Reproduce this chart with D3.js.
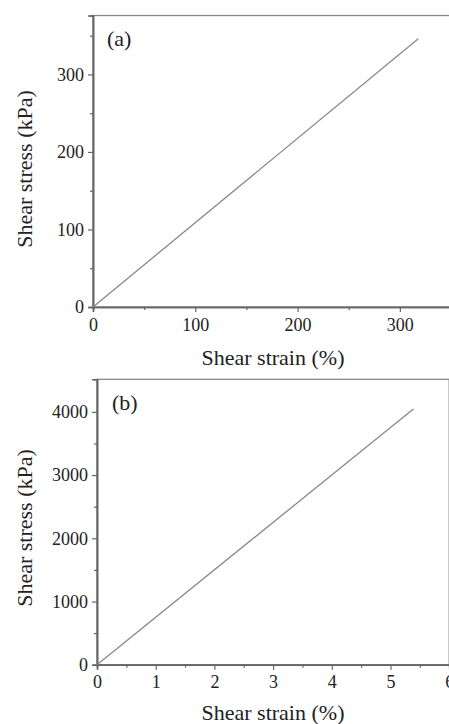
<!DOCTYPE html>
<html>
<head>
<meta charset="utf-8">
<script src="https://cdn.jsdelivr.net/npm/d3@7"></script>
<style>
  body { margin: 0; background: #fff; }
  svg { display: block; }
</style>
</head>
<body>
<div id="chart"></div>
<script>
// panel (a)
const strainA = [0, 318];
const stressA = [0, 346];
const xTicksA = [0, 100, 200, 300];
const yTicksA = [0, 100, 200, 300];

// panel (b)
const strainB = [0, 5.39];
const stressB = [0, 4045];
const xTicksB = [0, 1, 2, 3, 4, 5, 6];
const yTicksB = [0, 1000, 2000, 3000, 4000];

let width = 449,
    height = 724;

const svg = d3.select('#chart')
    .append('svg')
        .attr('width', width)
        .attr('height', height);

const font = "'Liberation Serif', 'Times New Roman', serif";

function panel(opts) {
    const g = svg.append('g');
    const x = d3.scaleLinear().domain(opts.xDomain).range([opts.left, opts.right]);
    const y = d3.scaleLinear().domain(opts.yDomain).range([opts.bottom, opts.top]);

    // frame
    g.append('rect')
        .attr('x', opts.left)
        .attr('y', opts.top)
        .attr('width', opts.right - opts.left)
        .attr('height', opts.bottom - opts.top)
        .style('fill', 'none')
        .style('stroke', '#888')
        .style('stroke-width', 1.3);

    // minor ticks
    const xMinor = g.append('g')
        .attr('transform', 'translate(0,' + opts.bottom + ')')
        .call(d3.axisBottom(x).tickValues(opts.xMinor).tickSize(3).tickFormat(''));
    const yMinor = g.append('g')
        .attr('transform', 'translate(' + opts.left + ',0)')
        .call(d3.axisLeft(y).tickValues(opts.yMinor).tickSize(3).tickFormat(''));

    const xAxis = g.append('g')
        .attr('transform', 'translate(0,' + opts.bottom + ')')
        .call(d3.axisBottom(x).tickValues(opts.xTicks).tickSize(5).tickPadding(6)
            .tickFormat(d3.format('d')));
    const yAxis = g.append('g')
        .attr('transform', 'translate(' + opts.left + ',0)')
        .call(d3.axisLeft(y).tickValues(opts.yTicks).tickSize(5).tickPadding(4)
            .tickFormat(d3.format('d')));

    [xMinor, yMinor, xAxis, yAxis].forEach(function(a) {
        a.select('.domain').style('stroke', '#666').style('stroke-width', 1.6);
        a.selectAll('.tick line').style('stroke', '#666').style('stroke-width', 1.2);
        a.selectAll('text')
            .attr('font-family', font)
            .attr('font-size', 18)
            .style('fill', '#222');
    });

    // data line
    const pts = opts.xs.map(function(d, i) { return [d, opts.ys[i]]; });
    g.append('path')
        .datum(pts)
        .attr('d', d3.line().x(function(d) { return x(d[0]); }).y(function(d) { return y(d[1]); }))
        .style('fill', 'none')
        .style('stroke', '#888')
        .style('stroke-width', 1.3);

    // panel label
    g.append('text')
        .attr('x', opts.labelX)
        .attr('y', opts.labelY)
        .attr('font-family', font)
        .attr('font-size', 22)
        .style('fill', '#222')
        .text(opts.label);

    // axis titles
    g.append('text')
        .attr('x', 273)
        .attr('y', opts.xTitleY)
        .attr('text-anchor', 'middle')
        .attr('font-family', font)
        .attr('font-size', 22)
        .style('fill', '#222')
        .text('Shear strain (%)');

    g.append('text')
        .attr('transform', 'translate(32,' + opts.yTitleY + ') rotate(-90)')
        .attr('text-anchor', 'middle')
        .attr('font-family', font)
        .attr('font-size', 22)
        .style('fill', '#222')
        .text('Shear stress (kPa)');
}

panel({
    label: '(a)', labelX: 107, labelY: 46,
    xTitleY: 365, yTitleY: 169,
    left: 93, right: 451, top: 15.5, bottom: 307,
    xDomain: [0, 350], yDomain: [0, 376],
    xTicks: xTicksA, yTicks: yTicksA,
    xMinor: [50, 150, 250], yMinor: [50, 150, 250, 350],
    xs: strainA, ys: stressA
});

panel({
    label: '(b)', labelX: 112, labelY: 410,
    xTitleY: 720, yTitleY: 528,
    left: 97, right: 449.2, top: 379.3, bottom: 664.7,
    xDomain: [0, 6], yDomain: [0, 4515],
    xTicks: xTicksB, yTicks: yTicksB,
    xMinor: [0.5, 1.5, 2.5, 3.5, 4.5, 5.5], yMinor: [500, 1500, 2500, 3500],
    xs: strainB, ys: stressB
});
</script>
</body>
</html>
